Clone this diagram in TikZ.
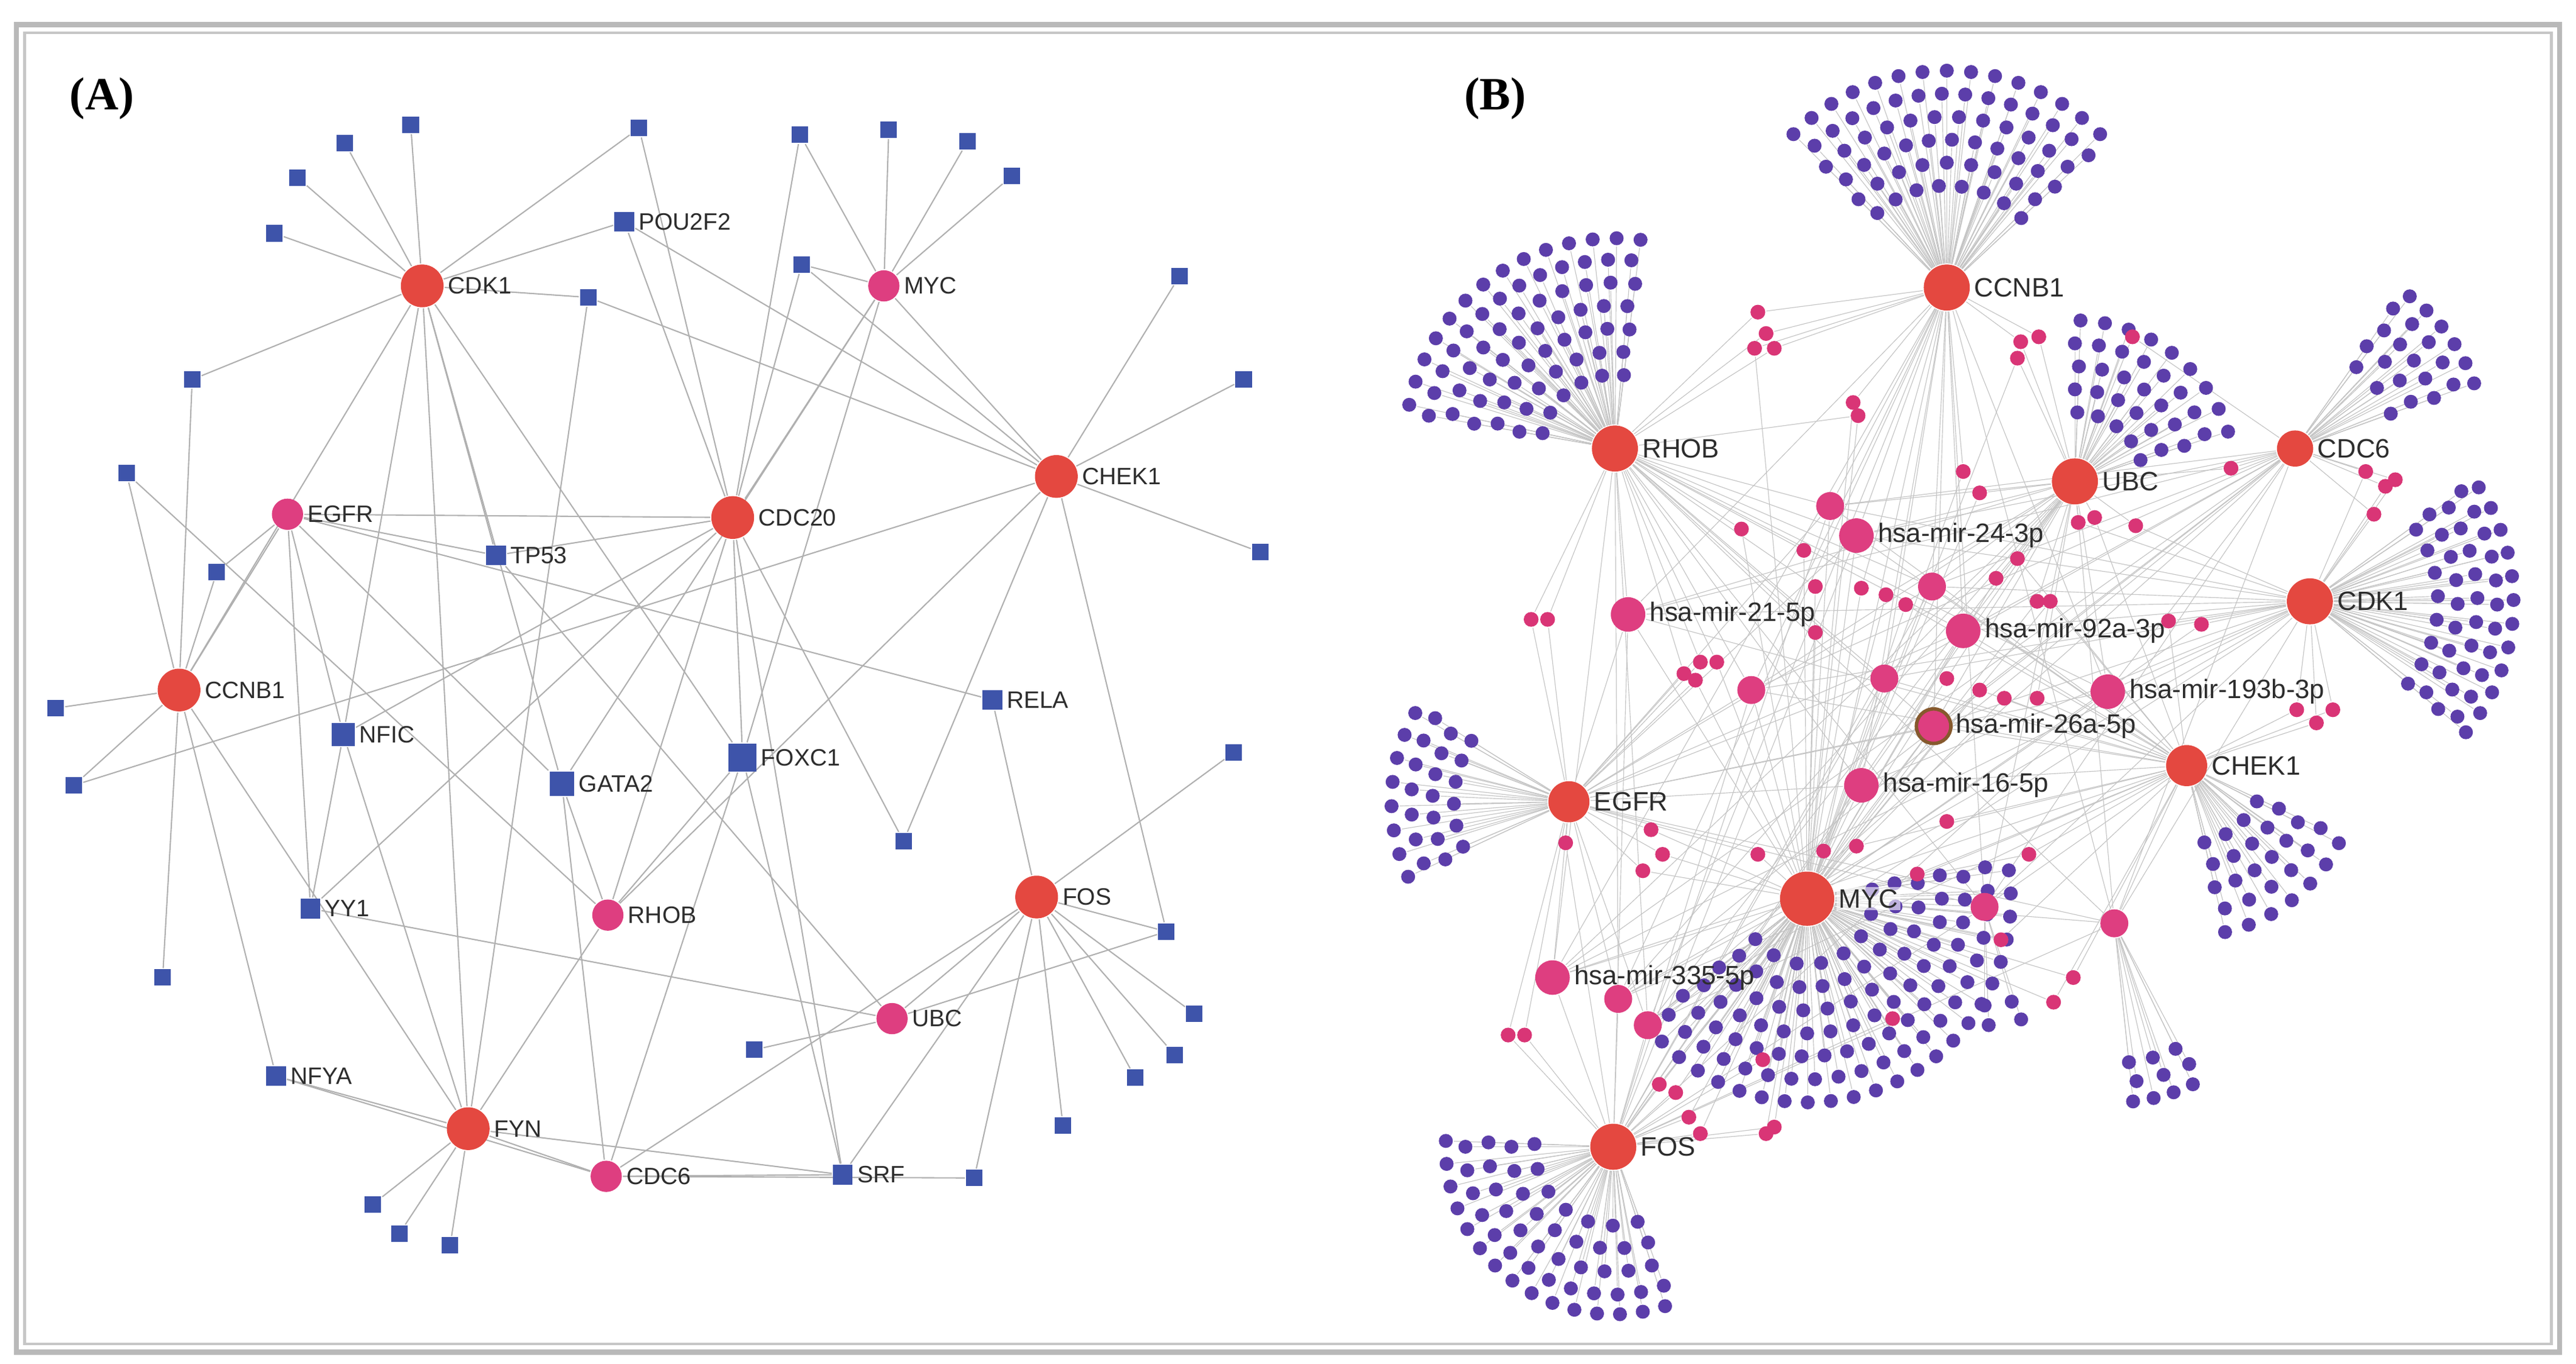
\documentclass[tikz,border=0pt]{standalone}
\usepackage{fontspec}
\setmainfont{Liberation Sans}
\newfontfamily\serifbf{Liberation Serif}
\usetikzlibrary{calc,backgrounds}
\definecolor{hubred}{RGB}{228,72,64}
\definecolor{mpink}{RGB}{222,62,128}
\definecolor{sqblue}{RGB}{62,84,170}
\definecolor{dpurp}{RGB}{92,62,170}
\definecolor{edg}{RGB}{196,196,196}
\definecolor{lab}{RGB}{45,45,45}
\tikzset{
 fe/.style={draw=edg,line width=0.12pt},
 ae/.style={draw=edg!90!black,line width=0.22pt},
 lbl/.style={font=\fontsize{4.1}{5}\selectfont,text=lab,inner sep=0.4pt},
 red/.style={circle,fill=hubred,minimum size=0.26cm,inner sep=0pt},
 pk/.style={circle,fill=mpink,minimum size=0.19cm,inner sep=0pt},
 sq/.style={rectangle,fill=sqblue,minimum size=0.12cm,inner sep=0pt},
 bsq/.style={rectangle,fill=sqblue,minimum size=0.17cm,inner sep=0pt},
 pd/.style={circle,fill=dpurp,minimum size=0.085cm,inner sep=0pt},
 sp/.style={circle,fill=mpink!85!purple,minimum size=0.09cm,inner sep=0pt},
 mp/.style={circle,fill=mpink,minimum size=0.17cm,inner sep=0pt},
 mir/.style={circle,fill=mpink,minimum size=0.21cm,inner sep=0pt},
 bh/.style={circle,fill=hubred,minimum size=0.28cm,inner sep=0pt},
 blbl/.style={font=\fontsize{4.6}{5.5}\selectfont,text=lab,inner sep=0.4pt},
}
% #1 hub, #2 rings, #3 amin, #4 amax, #5 = 1 nodes / 2 edges
\newcommand\myfan[5]{%
 \foreach \dd [count=\k] in {#2}{%
  \pgfmathsetmacro\nn{int(max(1,round((#4-(#3))/820*\dd)))}%
  \foreach \j in {0,...,\nn}{%
   \ifnum#5=1
    \pgfmathsetmacro\aa{#3+(#4-(#3))/\nn*\j+mod(\k,2)*2}%
    \node[pd] (#1-\k-\j) at ($(#1)+(\aa:\dd)$) {};
   \else
    \draw[fe] (#1)--(#1-\k-\j);
   \fi
  }}}
\newcommand\allfans[1]{%
\myfan{bCCNB1}{62,76,90,104,118,132}{-135}{-45}{#1}
\myfan{bRHOB}{45,59,73,87,101,115,128}{-170}{-85}{#1}
\myfan{bUBC}{42,56,70,84,98}{-90}{-20}{#1}
\myfan{bCDC6}{62,76,90,104,116}{-55}{-22}{#1}
\myfan{bCDK1}{78,90,102,114,124}{-36}{38}{#1}
\myfan{bCHEK1}{48,62,76,90,104}{25}{75}{#1}
\myfan{bEGFR}{70,83,96,108}{155}{210}{#1}
\myfan{bMYC}{40,54,68,82,96,110,124}{-10}{140}{#1}
\myfan{bFOS}{48,62,76,90,102}{70}{180}{#1}
\myfan{mm6}{85,97,109}{62}{82}{#1}
\myfan{mm5}{60,72}{72}{88}{#1}}
\newcommand\splist{1070/190/bCCNB1/bRHOB,1075/203/bCCNB1/bRHOB,1068/212/bCCNB1/bMYC,1080/212/bCCNB1/bRHOB,1128/245/bCCNB1/bMYC,1131/253/bRHOB/bMYC,1230/208/bCCNB1/bUBC,1241/205/bCCNB1/bUBC,1228/218/bUBC/bMYC,1195/287/bCCNB1/bMYC,1205/300/bUBC/bMYC,1298/205/bUBC/bCDC6,1060/322/bRHOB/bMYC,1098/335/bRHOB/bMYC,1105/357/bMYC/bRHOB,1133/358/bMYC/bCCNB1,1148/362/bMYC/bUBC,1160/368/bMYC/bCHEK1,1215/352/bUBC/bMYC,1228/340/bUBC/bCHEK1,1240/366/bUBC/bMYC,1248/366/bCHEK1/bMYC,1265/318/bUBC/bCDK1,1275/315/bUBC/bCHEK1,1300/320/bUBC/bCDK1,1320/378/bCDK1/bCHEK1,1340/380/bCDK1/bMYC,1358/285/bCDC6/bUBC,1440/287/bCDC6/bCDK1,1452/296/bCDC6/bCDK1,1445/313/bCDC6/bCDK1,1458/292/bCDC6/bCDK1,1398/432/bCDK1/bCHEK1,1410/440/bCDK1/bCHEK1,1420/432/bCDK1/bCHEK1,1035/403/bRHOB/bEGFR,1045/403/bRHOB/bMYC,1025/410/bRHOB/bEGFR,1032/414/bEGFR/bMYC,1105/385/bMYC/bRHOB,1185/413/bMYC/bUBC,1205/420/bMYC/bCHEK1,1220/425/bCHEK1/bMYC,1240/425/bCHEK1/bUBC,932/377/bRHOB/bEGFR,942/377/bRHOB/bEGFR,1005/505/bEGFR/bMYC,1012/520/bEGFR/bMYC,1000/530/bEGFR/bMYC,953/513/bEGFR/bFOS,1070/520/bMYC/bEGFR,1110/518/bMYC/bCCNB1,1130/515/bMYC/bCHEK1,1185/500/bMYC/bCHEK1,1235/520/bCHEK1/bMYC,1218/572/bMYC/bCHEK1,1262/595/bCHEK1/bMYC,1250/610/bCHEK1/bMYC,918/630/bFOS/bEGFR,928/630/bFOS/bEGFR,1152/620/bMYC/bFOS,1010/660/bFOS/bMYC,1020/665/bFOS/bMYC,1028/680/bFOS/bMYC,1035/690/bFOS/bMYC,1080/686/bFOS/bMYC,1073/645/bFOS/bMYC,1075/690/bFOS/bMYC,1167/532/bMYC/bCHEK1}
\begin{document}
\begin{tikzpicture}[x=0.01cm,y=-0.01cm]
\useasboundingbox (0,0) rectangle (1568,830);
\draw[gray!55,line width=0.9pt] (10,15) rectangle (1558,823);
\draw[gray!45,line width=0.5pt] (15,20) rectangle (1553,818);
\node[font=\serifbf\bfseries\fontsize{8}{9}\selectfont,inner sep=0] (labA) at (62,60) {(A)};
\node[font=\serifbf\bfseries\fontsize{8}{9}\selectfont,inner sep=0] (labB) at (910,60) {(B)};
% ---------------- Panel A ----------------
\node[red,label={[lbl]right:CDK1}] (CDK1) at (257,174) {};
\node[red,label={[lbl]right:CDC20}] (CDC20) at (446,315) {};
\node[red,label={[lbl]right:CHEK1}] (CHEK1) at (643,290) {};
\node[red,label={[lbl]right:CCNB1}] (CCNB1) at (109,420) {};
\node[red,label={[lbl]right:FOS}] (FOS) at (631,546) {};
\node[red,label={[lbl]right:FYN}] (FYN) at (285,687) {};
\node[pk,label={[lbl]right:MYC}] (MYC) at (538,174) {};
\node[pk,label={[lbl]right:EGFR}] (EGFR) at (175,313) {};
\node[pk,label={[lbl]right:RHOB}] (RHOB) at (370,557) {};
\node[pk,label={[lbl]right:UBC}] (UBC) at (543,620) {};
\node[pk,label={[lbl]right:CDC6}] (CDC6) at (369,716) {};
\node[sq,label={[lbl]right:POU2F2}] (POU) at (380,135) {};
\node[sq,label={[lbl]right:TP53}] (TP53) at (302,338) {};
\node[sq,minimum size=0.14cm,label={[lbl]right:NFIC}] (NFIC) at (209,447) {};
\node[sq,minimum size=0.15cm,label={[lbl]right:GATA2}] (GATA2) at (342,477) {};
\node[bsq,label={[lbl]right:FOXC1}] (FOXC1) at (452,461) {};
\node[sq,label={[lbl]right:RELA}] (RELA) at (604,426) {};
\node[sq,label={[lbl]right:YY1}] (YY1) at (189,553) {};
\node[sq,label={[lbl]right:NFYA}] (NFYA) at (168,655) {};
\node[sq,label={[lbl]right:SRF}] (SRF) at (513,715) {};
\foreach \x/\y [count=\i] in {250/76,210/87,181/108,167/142,389/78,487/82,541/79,589/86,616/107,488/161,358/181,718/168,757/231,117/231,77/288,132/348,767/336,34/431,45/478,751/458,550/512,710/567,727/617,715/642,691/656,647/685,593/717,459/639,99/595,227/733,243/751,274/758}
 \node[sq,minimum size=0.1cm] (q\i) at (\x,\y) {};
% ---------------- Panel B nodes ----------------
\node[bh,label={[blbl]right:CCNB1}] (bCCNB1) at (1185,175) {};
\node[bh,label={[blbl]right:RHOB}] (bRHOB) at (983,273) {};
\node[bh,label={[blbl]right:UBC}] (bUBC) at (1263,293) {};
\node[bh,minimum size=0.22cm,label={[blbl]right:CDC6}] (bCDC6) at (1397,273) {};
\node[bh,label={[blbl]right:CDK1}] (bCDK1) at (1406,366) {};
\node[bh,minimum size=0.25cm,label={[blbl]right:CHEK1}] (bCHEK1) at (1331,466) {};
\node[bh,minimum size=0.25cm,label={[blbl]right:EGFR}] (bEGFR) at (955,488) {};
\node[mir,label={[blbl]right:hsa-mir-24-3p}] (m24) at (1130,326) {};
\node[mir,label={[blbl]right:hsa-mir-21-5p}] (m21) at (991,374) {};
\node[mir,label={[blbl]right:hsa-mir-92a-3p}] (m92) at (1195,384) {};
\node[mir,label={[blbl]right:hsa-mir-193b-3p}] (m193) at (1283,421) {};
\node[mir,draw=brown!70!black,line width=0.6pt,label={[blbl]right:hsa-mir-26a-5p}] (m26) at (1177,442) {};
\node[mir,label={[blbl]right:hsa-mir-16-5p}] (m16) at (1133,478) {};
\foreach \x/\y [count=\i] in {1114/308,1176/357,1147/413,1066/420,1208/552,1287/562,985/608,1003/624}
 \coordinate (mm\i) at (\x,\y);
\coordinate (bMYC) at (1100,547);
\coordinate (bFOS) at (982,698);
\allfans{1}
\foreach \i in {1,...,8} \node[mp] (mm\i) at (mm\i) {};
\node[bh,minimum size=0.33cm,label={[blbl,fill=white,fill opacity=0.6,text opacity=1]right:MYC}] (bMYC) at (1100,547) {};
\node[bh,label={[blbl]right:FOS}] (bFOS) at (982,698) {};
\node[mir,label={[blbl]right:hsa-mir-335-5p}] (m335) at (945,595) {};
\foreach \x/\y/\ha/\hb [count=\i] in \splist
 \node[sp] (sp\i) at (\x,\y) {};
% ---------------- edges ----------------
\begin{scope}[on background layer]
\fill[white] (0,0) rectangle (1568,830);
\foreach \a/\b in {CDK1/q1,CDK1/q2,CDK1/q3,CDK1/q4,CDK1/q5,CDK1/POU,CDK1/q11,CDK1/TP53,CDK1/NFIC,CDK1/FOXC1,CDK1/q14,CDK1/CCNB1,CDK1/GATA2,CDK1/FYN,
 MYC/q6,MYC/q7,MYC/q8,MYC/q9,MYC/q10,MYC/CDC20,MYC/FOXC1,MYC/CHEK1,MYC/GATA2,
 CHEK1/q12,CHEK1/q13,CHEK1/q17,CHEK1/q19,CHEK1/q21,CHEK1/q10,CHEK1/q11,CHEK1/q22,CHEK1/RHOB,CHEK1/POU,
 CDC20/q6,CDC20/q10,CDC20/POU,CDC20/TP53,CDC20/NFIC,CDC20/FOXC1,CDC20/SRF,CDC20/q21,CDC20/YY1,CDC20/EGFR,CDC20/q5,
 CCNB1/q18,CCNB1/q19,CCNB1/q16,CCNB1/q14,CCNB1/q15,CCNB1/q29,CCNB1/FYN,CCNB1/EGFR,CCNB1/NFYA,
 EGFR/TP53,EGFR/NFIC,EGFR/q16,EGFR/RELA,EGFR/GATA2,EGFR/YY1,
 FOS/RELA,FOS/q22,FOS/q23,FOS/q24,FOS/q25,FOS/q26,FOS/q27,FOS/q20,FOS/UBC,FOS/SRF,FOS/CDC6,
 FYN/NFYA,FYN/q30,FYN/q31,FYN/q32,FYN/NFIC,FYN/CDC6,FYN/SRF,FYN/RHOB,FYN/q11,
 UBC/YY1,UBC/q28,UBC/q22,UBC/TP53,
 RHOB/GATA2,RHOB/FOXC1,RHOB/q15,RHOB/CDC20,
 CDC6/SRF,CDC6/FOXC1,CDC6/GATA2,CDC6/q27,SRF/FOXC1,NFIC/YY1,NFYA/CDC6}
 \draw[ae] (\a)--(\b);
\allfans{2}
\foreach \m in {m24,m21,m92,m193,m26,m16,m335,mm1,mm2,mm3,mm4,mm5,mm6,mm7,mm8}
 \foreach \h in {bCCNB1,bRHOB,bUBC,bCDK1,bCHEK1,bEGFR,bMYC,bFOS,bCDC6}
  \draw[fe] (\m)--(\h);
\foreach \x/\y/\ha/\hb [count=\i] in \splist
 {\draw[fe] (sp\i)--(\ha); \draw[fe] (sp\i)--(\hb);}
\end{scope}
\end{tikzpicture}
\end{document}
